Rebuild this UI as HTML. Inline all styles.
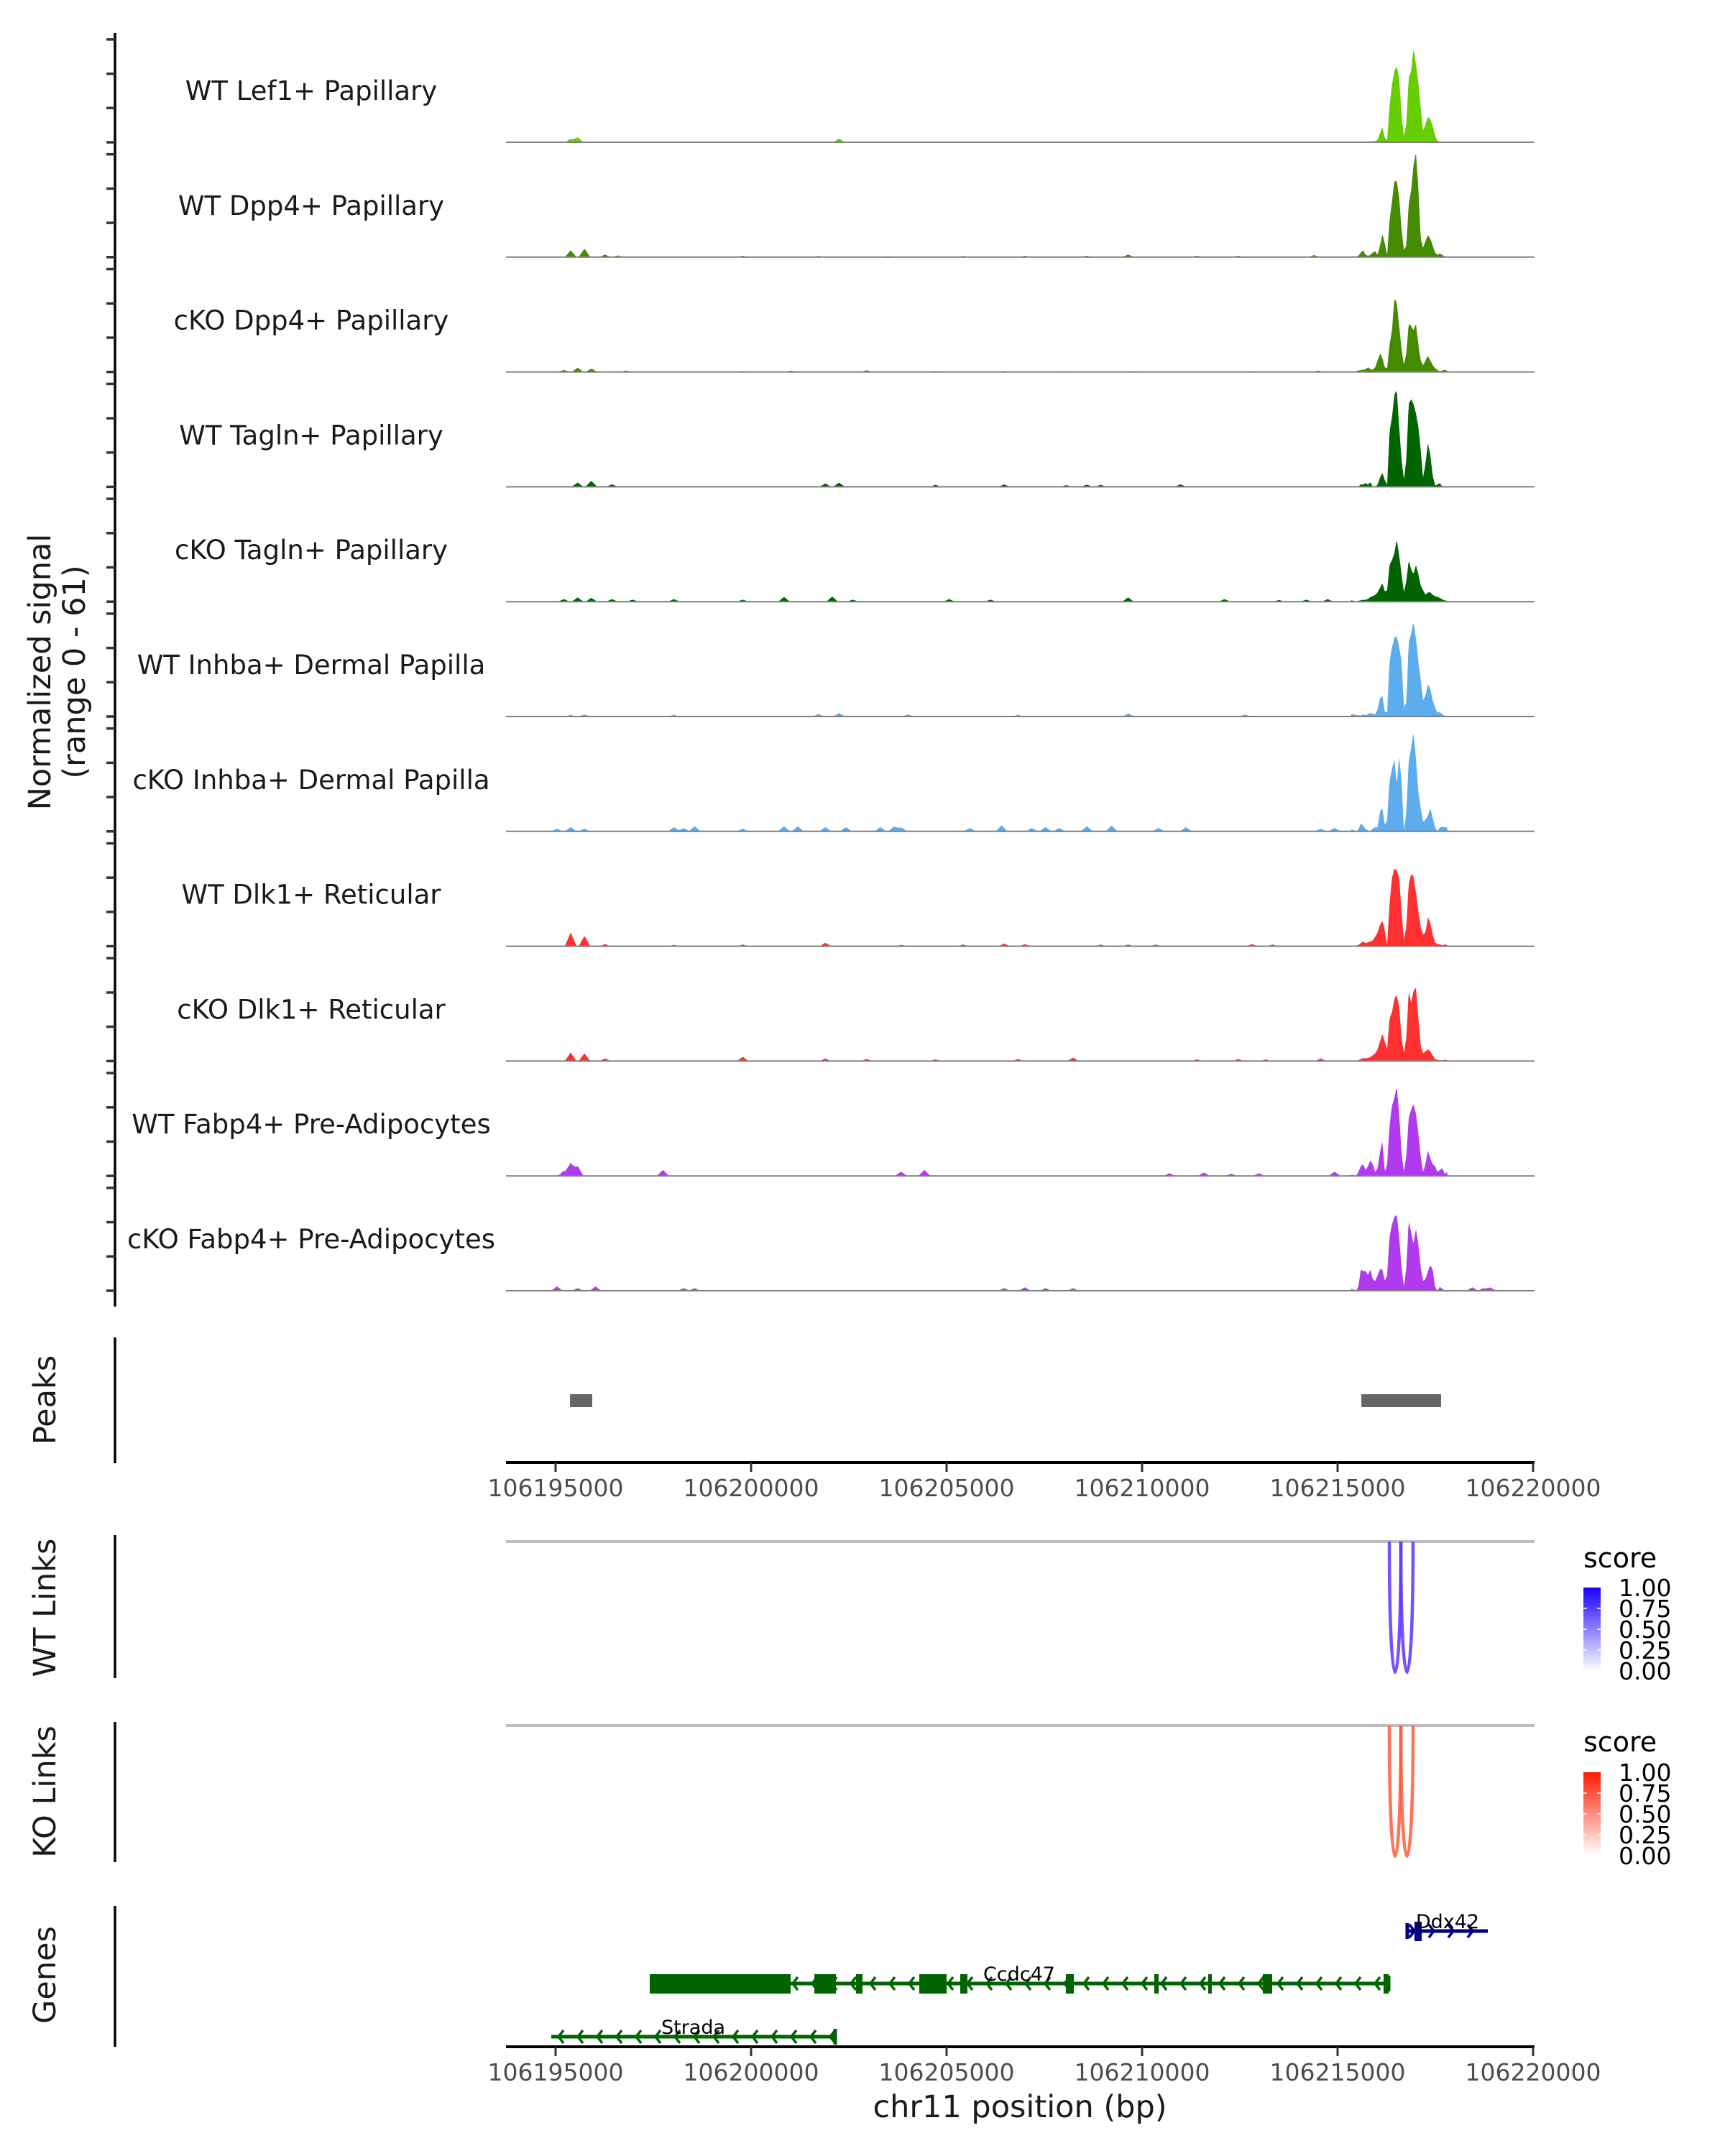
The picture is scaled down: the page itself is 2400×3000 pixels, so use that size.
<!DOCTYPE html>
<html><head><meta charset="utf-8"><style>
html,body{margin:0;padding:0;background:#fff}
svg{display:block;font-family:"DejaVu Sans","Liberation Sans",sans-serif}
</style></head><body>
<svg id="chart" width="2400" height="3000" viewBox="0 0 2400 3000" xmlns="http://www.w3.org/2000/svg"></svg>
<script>
// ---------- data ----------
const trackNames = ["WT Lef1+ Papillary","WT Dpp4+ Papillary","cKO Dpp4+ Papillary","WT Tagln+ Papillary","cKO Tagln+ Papillary","WT Inhba+ Dermal Papilla","cKO Inhba+ Dermal Papilla","WT Dlk1+ Reticular","cKO Dlk1+ Reticular","WT Fabp4+ Pre-Adipocytes","cKO Fabp4+ Pre-Adipocytes"];
const trackColors = ["#66cd00","#458b00","#458b00","#006400","#006400","#5cacee","#5cacee","#ff3030","#ff3030","#b23aee","#b23aee"];
const xTicks = [106195000,106200000,106205000,106210000,106215000,106220000];
const yTicks = [0,20,40,60];
const mainPos = [106215349,106215410,106215472,106215533,106215594,106215655,106215717,106215778,106215839,106215900,106215962,106216023,106216084,106216146,106216207,106216268,106216329,106216391,106216452,106216513,106216574,106216636,106216697,106216758,106216819,106216881,106216942,106217003,106217065,106217126,106217187,106217248,106217310,106217371,106217432,106217493,106217555,106217616,106217677,106217739,106217800];
const mainLef1WT = [0,0,.3,.3,.3,.3,.5,.5,.5,.5,.8,1.3,5.4,8.9,2.7,1.3,21.5,33.6,41.7,44.4,37.7,16.1,3.2,10.8,37.7,41.7,55,45.7,35,20.2,6.7,10.8,14.8,13.5,9.4,4,.8,.5,.5,.3,.3];
const mainDpp4WT = [0,0,.3,.8,2.7,4,1.3,.8,1.3,2.7,3.5,1.3,6.7,13.5,8.1,1.3,21.5,32.3,44.4,44.4,35,16.1,4,6.7,30.9,39,53.8,61,40.4,10.8,5.4,9.4,12.9,10.8,6.7,2.7,1.3,2.2,1.3,.5,.3];
const mainDpp4KO = [0,0,.5,.8,1.1,1.3,1.6,2.7,1.6,1.3,2.7,6.7,10.8,8.1,2.7,2.2,16.1,24.2,43,40.4,26.9,13.5,4,10.8,28.2,26.9,24.2,28.2,16.1,6.7,4,6.7,9.4,6.7,4,2.2,1.1,.5,.8,1.3,.8];
const mainTaglnWT = [0,0,0,0,1.6,1.3,2.2,1.3,2.7,0,0,1.3,5.4,8.1,4,1.3,32.3,40.4,53.8,56.5,35,16.1,4,16.1,48.4,51.1,48.4,43,35,21.5,5.4,13.5,25.6,18.8,6.7,.8,1.3,2.2,0,0,0];
const mainTaglnKO = [.8,.5,0,.5,.8,1.1,1.1,1.6,2.7,3.2,4,5.4,8.1,10.8,5.9,6.7,21.5,24.2,28.2,36.3,26.9,16.1,5.4,12.1,24.2,18.8,16.1,21.5,16.1,9.4,6.7,4,5.4,5.4,4,3.2,2.7,2.2,1.3,.8,.5];
const mainInhbaWT = [1.3,1.3,.8,.8,.5,1.3,.8,1.3,2.2,1.6,1.3,4,10.8,12.1,2.7,2.7,32.3,40.4,45.7,47.1,40.4,32.3,5.4,8.1,43,48.4,55.1,45.7,32.3,21.5,9.4,12.1,18.8,16.1,9.4,5.4,2.2,2.7,1.3,.5,.3];
const mainInhbaKO = [1.1,.7,0,1.1,4.5,3.4,1.1,.7,0,1.8,2.3,2.3,11.4,13.6,3.4,6.8,29.5,36.3,42,27.2,43.1,29.5,0,11.4,40.9,48.8,57.9,43.1,22.7,13.6,5.7,6.8,9.1,13.6,7.9,2.3,0,2.3,2.7,2.3,2.3];
const mainDlk1WT = [0,0,.5,.7,1.8,2.7,1.8,2.3,2.7,3.4,5.7,7.9,12.5,14.8,9.1,1.1,25,39.7,45.4,44.3,39.7,20.4,3.4,11.4,36.3,42,40.9,31.8,20.4,11.4,6.8,7.9,17,13.6,6.8,2.3,1.1,1.1,.5,1.1,.7];
const mainDlk1KO = [0,0,0,.5,1.1,1.8,1.6,1.8,2.3,3.4,4.5,6.8,11.4,15.9,11.4,6.8,25,28.4,36.3,38.6,31.8,13.6,4.5,13.6,40.9,34,40.9,43.1,25,9.1,4.5,5.7,6.8,5.7,3.4,1.1,.7,.5,.5,.7,.7];
const mainFabp4WT = [.7,.5,0,2.3,5.7,6.8,3.4,5.7,9.1,6.8,2.3,4.5,13.6,20.4,2.3,6.8,29.5,40.9,45.4,52.2,36.3,13.6,2.3,11.4,34,38.6,42,36.3,25,11.4,2.3,6.8,14.8,10.2,6.8,5.7,2.3,3.4,4.5,1.1,2.3];
const mainFabp4KO = [1.1,.7,0,2.3,12.5,11.4,11.4,9.1,12.5,6.8,5.7,9.1,12.5,12.5,5.7,9.1,31.8,38.6,43.1,44.3,31.8,13.6,2.3,13.6,40.9,34,27.2,36.3,27.2,13.6,5.7,6.8,11.4,14.8,12.5,2.3,0,2.3,1.1,0,0];
// background bumps: [position bp, signal]
const blipsLef1WT = [[106195000,.5],[106195387,2],[106195563,3],[106196267,.6],[106197000,.4],[106198500,.3],[106202251,2.2],[106205000,.3],[106212000,.3],[106214000,.5]];
const blipsDpp4WT = [[106195387,4],[106195739,5],[106196267,1.5],[106196600,1],[106199787,.8],[106201723,.7],[106203500,.6],[106205419,.7],[106207003,.8],[106208587,.8],[106209643,1.5],[106211403,.8],[106212459,.8],[106214400,1.2]];
const blipsDpp4KO = [[106195211,1.2],[106195563,2.5],[106195915,2],[106196800,.8],[106199787,.6],[106201019,.8],[106202955,1],[106204715,.6],[106206475,.6],[106208000,.5],[106209800,.5],[106212800,.5],[106214500,.8]];
const blipsTaglnWT = [[106195563,2.5],[106195915,3.5],[106196443,1.5],[106201899,2],[106202251,2.5],[106204715,1.2],[106206475,1.4],[106208059,1],[106208587,1.3],[106208939,1.2],[106210981,1.5]];
const blipsTaglnKO = [[106195211,1.5],[106195563,2.5],[106195915,2.2],[106196443,1.5],[106196971,1.2],[106198027,1.5],[106199787,1.2],[106200843,2.8],[106202075,3],[106202600,1.2],[106205067,1.5],[106206123,1.2],[106209643,2.5],[106212107,1.5],[106213500,1],[106214200,1.2],[106214747,1.5]];
const blipsInhbaWT = [[106195387,1],[106195739,1.2],[106198027,1],[106201723,1.5],[106202251,2],[106204011,1.2],[106206827,1],[106209643,1.8],[106212635,1.2]];
const blipsInhbaKO = [[106195035,1.5],[106195387,2.5],[106195739,1.5],[106198027,2.5],[106198555,3],[106198274,2],[106199787,1.5],[106200843,3],[106201195,3],[106201899,2.5],[106202427,2.5],[106203307,2.5],[106203659,3],[106203835,2.5],[106205595,2],[106206405,3.5],[106207179,2],[106207531,2.5],[106207883,2],[106208587,3],[106209221,3.5],[106210418,2],[106211122,2.5],[106214571,1.5],[106214923,2]];
const blipsDlk1WT = [[106195387,8],[106195739,6],[106196267,1.2],[106198027,.8],[106199787,1],[106201899,2],[106203835,.8],[106205419,1],[106206475,1.5],[106207003,1.2],[106208939,1],[106209643,1],[106210347,1],[106212811,1.2],[106213339,1]];
const blipsDlk1KO = [[106195387,5],[106195739,4.5],[106196267,1.5],[106199787,2.5],[106201899,1.5],[106202955,1.2],[106204715,1],[106206827,1.2],[106208235,2],[106211403,1],[106212459,1.2],[106213163,1],[106214571,1.5]];
const blipsFabp4WT = [[106195211,3],[106195387,8],[106195563,6],[106197746,3.5],[106203835,2.5],[106204434,3.5],[106210699,1.5],[106211579,2],[106212283,1.2],[106212987,1.5],[106214923,2.5]];
const blipsFabp4KO = [[106195035,2.5],[106195563,1.5],[106196021,2.5],[106198274,1.5],[106198555,1.5],[106206475,1.5],[106207003,2],[106207531,1.5],[106208235,1.5],[106218443,2],[106218725,1.5],[106218901,2]];
const mainValues = [mainLef1WT,mainDpp4WT,mainDpp4KO,mainTaglnWT,mainTaglnKO,mainInhbaWT,mainInhbaKO,mainDlk1WT,mainDlk1KO,mainFabp4WT,mainFabp4KO];
const blipValues = [blipsLef1WT,blipsDpp4WT,blipsDpp4KO,blipsTaglnWT,blipsTaglnKO,blipsInhbaWT,blipsInhbaKO,blipsDlk1WT,blipsDlk1KO,blipsFabp4WT,blipsFabp4KO];
const peakStarts = [106195368,106215607];
const peakEnds = [106195938,106217647];
const wtLinks = [[106216324,106216618,0.75],[106216618,106216930,0.75]];
const koLinks = [[106216324,106216618,0.7],[106216618,106216930,0.7]];
const legendLabels = ["1.00","0.75","0.50","0.25","0.00"];
// genes
const geneNames = ["Ddx42","Ccdc47","Strada"];
const geneStrand = [1,-1,-1];
const geneStart = [106216783,106197408,106194890];
const geneEnd = [106218842,106216305,106202151];
const geneRow = [0,1,2];
const geneColors = ["#000080","#006400","#006400"];
const exonStarts = [[106216967],[106197408,106201618,106202684,106204301,106205349,106208051,106210312,106211691,106213088,106216176],[]];
const exonEnds = [[106217151],[106201011,106202169,106202849,106205000,106205533,106208254,106210423,106211783,106213327,106216305],[]];

// ---------- scales ----------
const X0 = 704, X1 = 2135, D0 = 106193732, D1 = 106220037;
function xs(bp){ return X0 + (bp - D0) * (X1 - X0) / (D1 - D0); }
const trackBase0 = 198, trackGap = 159.8, pxPerUnit = 2.385;
function ys(i, v){ return trackBase0 + i * trackGap - v * pxPerUnit; }

const NS = "http://www.w3.org/2000/svg";
const svg = document.getElementById("chart");
function mk(tag, attrs, parent){
  const e = document.createElementNS(NS, tag);
  for (const k in attrs) e.setAttribute(k, attrs[k]);
  (parent || svg).appendChild(e);
  return e;
}
function txt(s, attrs, parent){ const t = mk("text", attrs, parent); t.textContent = s; return t; }

function signalAt(i, bp){
  let v = 0;
  const p = mainPos, m = mainValues[i];
  if (bp >= p[0] && bp <= p[p.length-1]) {
    let k = 0; while (k < p.length-2 && p[k+1] < bp) k++;
    const t = (bp - p[k]) / (p[k+1] - p[k]);
    v += m[k] + (m[k+1] - m[k]) * t;
  }
  for (const b of blipValues[i]) {
    const d = Math.abs(bp - b[0]);
    if (d < 150) v += b[1] * (1 - d / 150);
  }
  return v;
}

// ---------- coverage tracks ----------
const yTitle = mk("text", {x:0, y:0, "font-size":43, fill:"#1a1a1a", "text-anchor":"middle", transform:"translate(80,935) rotate(-90)"});


const ts1 = mk("tspan", {x:0, dy:-10}, yTitle); ts1.textContent = "Normalized signal";
const ts2 = mk("tspan", {x:0, dy:48}, yTitle); ts2.textContent = "(range 0 - 61)";

const ax = mk("line", {x1:160, y1:46, x2:160, y2:1818, stroke:"#000", "stroke-width":3.5});



for (let i = 0; i < trackNames.length; i++) {
  const g = mk("g", {});
  
  
  for (const t of yTicks) {
    const tk = mk("line", {x1:148, x2:160, y1:ys(i,t), y2:ys(i,t), stroke:"#333", "stroke-width":3.5}, g);
    
    
  }
  let d = "M" + X0 + "," + ys(i,0);
  for (let bp = D0; bp <= D1; bp += 18) {
    d += "L" + xs(bp).toFixed(1) + "," + ys(i, signalAt(i, bp)).toFixed(1);
  }
  d += "L" + X1 + "," + ys(i,0) + "Z";
  const area = mk("path", {d:d, fill:trackColors[i], stroke:"none"}, g);
  
  
  const bl = mk("line", {x1:X0, x2:X1, y1:ys(i,0), y2:ys(i,0), stroke:"#7f7f7f", "stroke-width":2}, g);
  
  
  const lab = txt(trackNames[i], {x:433, y:ys(i,0) - 59, "font-size":37, fill:"#1a1a1a", "text-anchor":"middle"}, g);
  
  
}

// ---------- side titles ----------
function sideTitle(s, cy, name){
  const t = txt(s, {x:0, y:0, "font-size":43, fill:"#1a1a1a", "text-anchor":"middle", transform:"translate(77," + cy + ") rotate(-90)"});
  
  
}
function sideAxis(y1, y2, name){
  const l = mk("line", {x1:160, x2:160, y1:y1, y2:y2, stroke:"#000", "stroke-width":3.5});
  
  
}
sideTitle("Peaks", 1948, 'peaks-title');
sideAxis(1861, 2036, 'peaks-axis');
sideTitle("WT Links", 2237, 'wt-links-title');
sideAxis(2136, 2335, 'wt-links-axis');
sideTitle("KO Links", 2493, 'ko-links-title');
sideAxis(2396, 2591, 'ko-links-axis');
sideTitle("Genes", 2748, 'genes-title');
sideAxis(2652, 2848, 'genes-axis');

// ---------- peaks ----------
for (let k = 0; k < peakStarts.length; k++) {
  const r = mk("rect", {x:xs(peakStarts[k]), y:1940, width:xs(peakEnds[k]) - xs(peakStarts[k]), height:18, fill:"#666666"});
  
  
}

// ---------- x axes ----------
function xAxis(y, name){
  const g = mk("g", {});
  
  
  mk("line", {x1:X0, x2:X1, y1:y, y2:y, stroke:"#000", "stroke-width":4}, g);
  for (const t of xTicks) {
    const tk = mk("line", {x1:xs(t), x2:xs(t), y1:y, y2:y + 13, stroke:"#333", "stroke-width":3}, g);
    
    
    const tl = txt(String(t), {x:xs(t), y:y + 47, "font-size":33, fill:"#4d4d4d", "text-anchor":"middle"}, g);
    
    
  }
}
xAxis(2035, 'peaks-x-axis');
xAxis(2848, 'genes-x-axis');
const xt = txt("chr11 position (bp)", {x:1419, y:2946, "font-size":43, fill:"#1a1a1a", "text-anchor":"middle"});



// ---------- links ----------
function links(data, y0, depth, color, name){
  const base = mk("line", {x1:X0, x2:X1, y1:y0, y2:y0, stroke:"#bebebe", "stroke-width":4});
  
  
  for (const l of data) {
    const a = xs(l[0]), b = xs(l[1]), c = y0 + depth / 0.75;
    const p = mk("path", {d:"M" + a + "," + y0 + " C" + a + "," + c + " " + b + "," + c + " " + b + "," + y0, fill:"none", stroke:color, "stroke-width":4.5, "stroke-opacity":0.5 + 0.5 * l[2]});
    
    
  }
}
links(wtLinks, 2145, 182, "#6338ff", 'wt-link');
links(koLinks, 2401, 182, "#ff5c3a", 'ko-link');

// ---------- legends ----------
function legend(y0, top, c1, id, name){
  const g = mk("g", {});
  
  
  const defs = mk("defs", {}, g);
  const lg = mk("linearGradient", {id:id, x1:0, y1:1, x2:0, y2:0}, defs);
  mk("stop", {offset:"0", "stop-color":"#ffffff"}, lg);
  mk("stop", {offset:"1", "stop-color":c1}, lg);
  txt("score", {x:2203, y:y0, "font-size":38, fill:"#000"}, g);
  const h = 116;
  mk("rect", {x:2203, y:top, width:24, height:h, fill:"url(#" + id + ")"}, g);
  for (let k = 0; k < legendLabels.length; k++) {
    const yy = top + k * h / 4;
    if (k > 0 && k < 4) {
      mk("line", {x1:2203, x2:2208, y1:yy, y2:yy, stroke:"#fff", "stroke-width":1.5}, g);
      mk("line", {x1:2222, x2:2227, y1:yy, y2:yy, stroke:"#fff", "stroke-width":1.5}, g);
    }
    const t = txt(legendLabels[k], {x:2252, y:yy + 12, "font-size":33, fill:"#000"}, g);
    
    
  }
}
legend(2181, 2209, "#1a00ff", "gwt", 'wt-legend');
legend(2437, 2466, "#ff1a00", "gko", 'ko-legend');

// ---------- genes ----------
const rowY = [2687, 2760, 2834];
for (let gi = 0; gi < geneNames.length; gi++) {
  const g = mk("g", {});
  
  
  const y = rowY[geneRow[gi]], col = geneColors[gi];
  const a = xs(geneStart[gi]), b = xs(geneEnd[gi]);
  mk("line", {x1:a, x2:b, y1:y, y2:y, stroke:col, "stroke-width":5}, g);
  const dir = geneStrand[gi];
  for (let x = a + 10; x < b - 6; x += 27) {
    const tip = x, back = x - dir * 7;
    mk("path", {d:"M" + back + "," + (y - 9) + " L" + tip + "," + y + " L" + back + "," + (y + 9), fill:"none", stroke:col, "stroke-width":3.5}, g);
  }
  const endX = dir < 0 ? b : a;
  mk("line", {x1:endX, x2:endX, y1:y - 11, y2:y + 11, stroke:col, "stroke-width":5}, g);
  for (let e = 0; e < exonStarts[gi].length; e++) {
    const ex = mk("rect", {x:xs(exonStarts[gi][e]), y:y - 13, width:Math.max(4, xs(exonEnds[gi][e]) - xs(exonStarts[gi][e])), height:27, fill:col}, g);
    
    
  }
  const lab = txt(geneNames[gi], {x:(a + b) / 2, y:y - 4, "font-size":27, fill:"#000", "text-anchor":"middle"}, g);
  
  
}
</script>
</body></html>
